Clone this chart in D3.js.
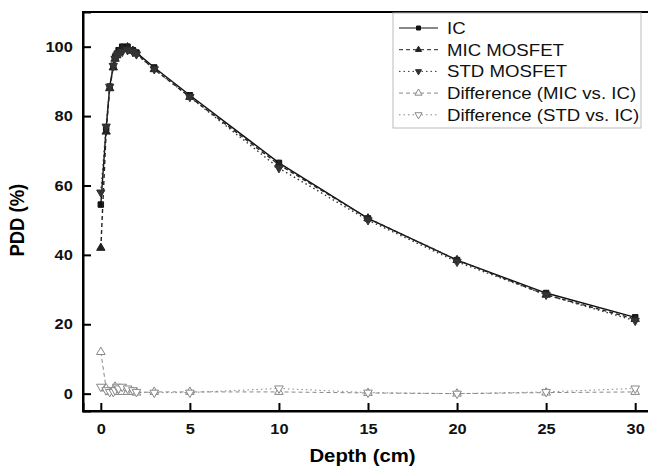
<!DOCTYPE html>
<html>
<head>
<meta charset="utf-8">
<script src="https://cdn.jsdelivr.net/npm/d3@7"></script>
<style>
  body { margin: 0; background: #fff; }
  svg text { font-family: "Liberation Sans", Arial, sans-serif; }
</style>
</head>
<body>
<div id="chart"></div>
<script>
// Data (depth in cm, PDD in %)
const depths  = [0, 0.3, 0.5, 0.7, 0.8, 0.9, 1.0, 1.2, 1.5, 1.8, 2.0, 3, 5, 10, 15, 20, 25, 30];
const icVals  = [54.5, 76.5, 88.5, 94.5, 97, 98, 99, 100, 100, 99, 98.3, 94, 86, 66.5, 50.5, 38.5, 29, 22];
const micVals = [42, 75.5, 88, 94, 96.5, 97.5, 98.5, 99.5, 99.8, 98.8, 98, 93.5, 85.5, 66, 50.5, 38.5, 28.5, 21.5];
const stdVals = [58, 77, 88.5, 94.5, 96.5, 97.5, 98, 98.5, 99, 98.5, 97.8, 93.5, 85.5, 65, 50, 38, 28.5, 21];
const diffMic = [12, 1.5, 0.5, 1, 2, 0.5, 1, 0.5, 0.5, 0.5, 0.3, 0.5, 0.5, 0.5, 0.2, 0, 0.3, 0.5];
const diffStd = [2, 1, 0.5, 0.5, 1, 2, 1.5, 2, 1.5, 1, 0.5, 0.3, 0.3, 1.5, 0.3, 0, 0.5, 1.5];
const xTicks = [0, 5, 10, 15, 20, 25, 30];
const yTicks = [0, 20, 40, 60, 80, 100];

const W = 648, H = 473;
const margin = {top: 12, right: -5, bottom: 62, left: 83};
const width = W - margin.left - margin.right;
const height = H - margin.top - margin.bottom;
const stretch = 1.13; // the figure's text is a bit wide

const svg = d3.select('#chart').append('svg')
    .attr('width', W).attr('height', H);
const g = svg.append('g')
    .attr('transform', `translate(${margin.left},${margin.top})`);

const x = d3.scaleLinear().domain([-1, 31]).range([0, width]);
const y = d3.scaleLinear().domain([-5, 110]).range([height, 0]);

// frame
g.append('rect')
    .attr('width', width).attr('height', height)
    .attr('fill', 'none').attr('stroke', '#000').attr('stroke-width', 2);

// axes, ticks pointing inward
const xAxis = g.append('g')
    .attr('transform', `translate(0,${height})`)
    .call(d3.axisBottom(x).tickValues(xTicks).tickSize(-8).tickPadding(13));
const yAxis = g.append('g')
    .call(d3.axisLeft(y).tickValues(yTicks).tickSize(-8).tickPadding(9));
[xAxis, yAxis].forEach(a => {
    a.select('.domain').attr('stroke-width', 2);
    a.selectAll('.tick line').attr('stroke-width', 2);
    a.selectAll('text')
        .attr('font-size', 14.5).attr('font-weight', 'bold')
        .attr('font-family', '"Liberation Sans", Arial, sans-serif')
        .attr('fill', '#111')
        .attr('transform', `scale(${stretch},1)`);
});

// axis titles
svg.append('text')
    .attr('transform', `translate(${margin.left + (W - margin.left) / 2 - 3},462) scale(${stretch},1)`)
    .attr('text-anchor', 'middle')
    .attr('font-size', 18).attr('font-weight', 'bold')
    .text('Depth (cm)');
svg.append('text')
    .attr('transform', `translate(24,${margin.top + y(50)}) rotate(-90) scale(1,${stretch})`)
    .attr('text-anchor', 'middle')
    .attr('font-size', 18.5).attr('font-weight', 'bold')
    .text('PDD (%)');

const series = [
    {name: 'IC', vals: icVals, color: '#111', dash: null, shape: 'square', fill: true},
    {name: 'MIC MOSFET', vals: micVals, color: '#222', dash: '4,3', shape: 'up', fill: true},
    {name: 'STD MOSFET', vals: stdVals, color: '#333', dash: '1.5,3', shape: 'down', fill: true},
    {name: 'Difference (MIC vs. IC)', vals: diffMic, color: '#888', dash: '4,3', shape: 'up', fill: false},
    {name: 'Difference (STD vs. IC)', vals: diffStd, color: '#888', dash: '1.5,3', shape: 'down', fill: false}
];

function symbolPath(shape, size) {
    if (shape === 'square') return d3.symbol(d3.symbolSquare, size)();
    return d3.symbol(d3.symbolTriangle, size)();
}

const line = d3.line().x((d, i) => x(depths[i])).y(d => y(d));

series.forEach(s => {
    g.append('path')
        .datum(s.vals)
        .attr('fill', 'none')
        .attr('stroke', s.color)
        .attr('stroke-width', s.fill ? 1.4 : 1)
        .attr('stroke-dasharray', s.dash)
        .attr('d', line);
    g.selectAll(null)
        .data(s.vals)
        .enter().append('path')
        .attr('d', symbolPath(s.shape, s.fill ? 30 : 32))
        .attr('transform', (d, i) => `translate(${x(depths[i])},${y(d)})` + (s.shape === 'down' ? ' rotate(180)' : ''))
        .attr('fill', s.fill ? s.color : '#fff')
        .attr('stroke', s.color)
        .attr('stroke-width', 1);
});

// legend
const lg = svg.append('g').attr('transform', 'translate(393,13)');
lg.append('rect')
    .attr('width', 248).attr('height', 115)
    .attr('fill', '#fff').attr('stroke', '#bbb').attr('stroke-width', 1);
series.forEach((s, i) => {
    const yy = 15 + i * 21.7;
    lg.append('line')
        .attr('x1', 6).attr('x2', 45).attr('y1', yy).attr('y2', yy)
        .attr('stroke', s.color).attr('stroke-width', 1)
        .attr('stroke-dasharray', s.dash);
    lg.append('path')
        .attr('d', symbolPath(s.shape, s.fill ? 16 : 22))
        .attr('transform', `translate(25.5,${yy})` + (s.shape === 'down' ? ' rotate(180)' : ''))
        .attr('fill', s.fill ? s.color : '#fff')
        .attr('stroke', s.color).attr('stroke-width', 1);
    lg.append('text')
        .attr('transform', `translate(54,${yy + 6}) scale(${stretch},1)`)
        .attr('font-size', 16.5)
        .attr('fill', '#111')
        .text(s.name);
});
</script>
</body>
</html>
